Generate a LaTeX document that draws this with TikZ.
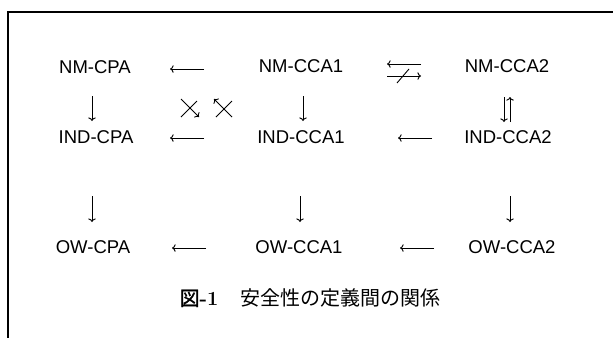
\documentclass[tikz,border=0pt]{standalone}
\usepackage{fontspec}
\setmainfont{Liberation Sans}
\newfontfamily\cjk{Noto Sans CJK JP}
\newfontfamily\cjkheavy[FakeBold=1.2]{Noto Sans CJK JP}
\newfontfamily\lmserif{Latin Modern Roman}
\usetikzlibrary{arrows.meta}
\begin{document}
\begin{tikzpicture}[x=1pt,y=-1pt,
  notion/.style={font=\fontsize{18.5}{22}\selectfont, inner sep=0pt},
  implies/.style={line width=0.9pt, -{To[length=3.6pt,width=7.5pt]}},
  negbar/.style={line width=0.9pt},
  frameline/.style={line width=1.2pt}]
\useasboundingbox (0,0) rectangle (613,338);
% frame: top edge and left edge
\draw[frameline] (613,12) -- (8,12) -- (8,338);

% security notions
\node[notion] (nmcpa)  at (95,67)  {NM-CPA};
\node[notion] (nmcca1) at (301,66) {NM-CCA1};
\node[notion] (nmcca2) at (507,66) {NM-CCA2};
\node[notion] (indcpa)  at (96,137)  {IND-CPA};
\node[notion] (indcca1) at (301,137) {IND-CCA1};
\node[notion] (indcca2) at (508,137) {IND-CCA2};
\node[notion] (owcpa)  at (93,247)  {OW-CPA};
\node[notion] (owcca1) at (299,247) {OW-CCA1};
\node[notion] (owcca2) at (512,247) {OW-CCA2};

% horizontal arrow end points
\coordinate (h1a) at (204,69);  \coordinate (h1b) at (170,69);
\coordinate (h2a) at (421,64);  \coordinate (h2b) at (387,64);
\coordinate (h3a) at (387,76);  \coordinate (h3b) at (421,76);
\coordinate (h4a) at (204,138); \coordinate (h4b) at (170,138);
\coordinate (h5a) at (432,138); \coordinate (h5b) at (398,138);
\coordinate (h6a) at (206,248); \coordinate (h6b) at (172,248);
\coordinate (h7a) at (434,248); \coordinate (h7b) at (400,248);

% vertical arrow end points
\coordinate (v1a) at (92,96);   \coordinate (v1b) at (92,121);
\coordinate (v2a) at (303,96);  \coordinate (v2b) at (303,121);
\coordinate (v3a) at (504,97);  \coordinate (v3b) at (504,122);
\coordinate (v4a) at (510,122); \coordinate (v4b) at (510,97);
\coordinate (v5a) at (92,196);  \coordinate (v5b) at (92,222);
\coordinate (v6a) at (300,196); \coordinate (v6b) at (300,222);
\coordinate (v7a) at (510,196); \coordinate (v7b) at (510,222);

% horizontal implications
\draw[implies] (h1a) -- (h1b);
\draw[implies] (h2a) -- (h2b);
\draw[implies] (h3a) -- (h3b);
\draw[negbar] (397,83) -- (409,69);
\draw[implies] (h4a) -- (h4b);
\draw[implies] (h5a) -- (h5b);
\draw[implies] (h6a) -- (h6b);
\draw[implies] (h7a) -- (h7b);

% vertical implications
\draw[implies] (v1a) -- (v1b);
\draw[implies] (v2a) -- (v2b);
\draw[implies] (v3a) -- (v3b);
\draw[implies] (v4a) -- (v4b);
\draw[implies] (v5a) -- (v5b);
\draw[implies] (v6a) -- (v6b);
\draw[implies] (v7a) -- (v7b);

% non-implications between NM-CPA and IND-CCA1
\coordinate (xa1) at (181,99); \coordinate (xa2) at (199,117);
\draw[implies] (xa1) -- (xa2);
\draw[negbar] (181,117) -- (197,101);
\coordinate (xb1) at (232,117); \coordinate (xb2) at (214,99);
\draw[implies] (xb1) -- (xb2);
\draw[negbar] (216,117) -- (232,101);

% caption
\node[font=\fontsize{20}{24}\selectfont, inner sep=0pt] (caption) at (310,298)
  {{\cjkheavy 図}{\lmserif\bfseries -1}\hspace{1.1em}{\cjk 安全性の定義間の関係}};
\end{tikzpicture}
\end{document}
